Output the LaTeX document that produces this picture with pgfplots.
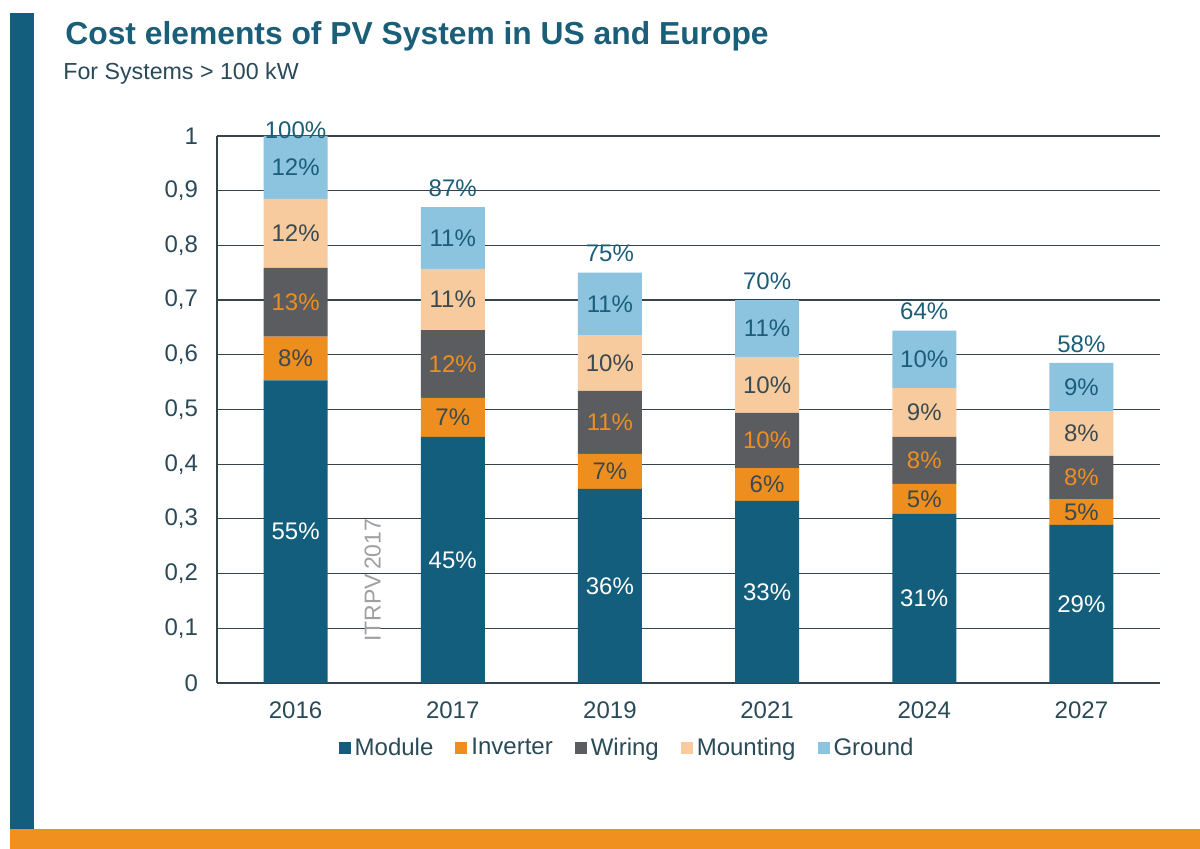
\documentclass[border=0pt]{standalone}
\usepackage{pgfplots}
\pgfplotsset{compat=1.18}
\usepackage{fontspec}
\setmainfont{Liberation Sans}
\definecolor{cModule}{HTML}{135E7C}
\definecolor{cInv}{HTML}{EE8E1F}
\definecolor{cWir}{HTML}{5B5C60}
\definecolor{cMnt}{HTML}{F8CB9E}
\definecolor{cGnd}{HTML}{8CC3DF}
\definecolor{cTitle}{HTML}{1B5E78}
\definecolor{cText}{HTML}{2A4A58}
\definecolor{cLab}{HTML}{3A4A50}
\definecolor{cGrid}{HTML}{34444A}
\definecolor{cOrange}{HTML}{F0901E}
\newcommand{\lab}[4]{\node[font=\fontsize{12}{14}\selectfont, text=#4, inner sep=0] at (axis cs:#1,#2) {#3};}
\begin{document}
\begin{tikzpicture}
\useasboundingbox (0,0) rectangle (600pt,424.5pt);
\fill[white] (0,0) rectangle (600pt,424.5pt);
\fill[cModule] (5pt,10pt) rectangle (17pt,418pt);
\fill[cOrange] (5pt,0) rectangle (600pt,10pt);
\node[anchor=base west, font=\bfseries\fontsize{15.9}{18}\selectfont, text=cTitle, inner sep=0] at (32.5pt,402pt) {Cost elements of PV System in US and Europe};
\node[anchor=base west, font=\fontsize{11.6}{13}\selectfont, text=cText, inner sep=0] at (31.5pt,384.5pt) {For Systems > 100 kW};
\begin{axis}[
  at={(108.5pt,83pt)}, anchor=south west,
  scale only axis, width=471.5pt, height=273.5pt,
  ybar stacked, bar width=32pt,
  xmin=-0.5, xmax=5.5, ymin=0, ymax=1,
  xtick={0,1,2,3,4,5}, xticklabels={2016,2017,2019,2021,2024,2027},
  ytick={0,0.1,0.2,0.3,0.4,0.5,0.6,0.7,0.8,0.9,1},
  yticklabel style={/pgf/number format/.cd, use comma, fixed, precision=1},
  /pgf/number format/assume math mode=true,
  tick label style={font=\fontsize{12}{14}\selectfont, text=cText},
  major tick length=0pt,
  ymajorgrids, grid style={cGrid, line width=0.6pt},
  axis x line*=bottom, axis y line*=left,
  axis line style={-, cGrid, line width=0.6pt},
  xticklabel shift=6pt, yticklabel shift=6pt,
  legend style={at={(0.436,-0.119)}, anchor=center, draw=none, fill=none,
    legend columns=-1, font=\fontsize{12}{14}\selectfont, text=cText,
    /tikz/every even column/.append style={column sep=9pt},
    /tikz/every odd column/.append style={column sep=0pt}},
  legend image code/.code={\fill[#1] (0pt,-3pt) rectangle (6pt,3pt);},
]
\addplot[fill=cModule, draw=none] coordinates {(0,0.553) (1,0.450) (2,0.355) (3,0.333) (4,0.309) (5,0.289)};
\addplot[fill=cInv, draw=none] coordinates {(0,0.080) (1,0.071) (2,0.064) (3,0.060) (4,0.055) (5,0.047)};
\addplot[fill=cWir, draw=none] coordinates {(0,0.126) (1,0.124) (2,0.115) (3,0.101) (4,0.086) (5,0.079)};
\addplot[fill=cMnt, draw=none] coordinates {(0,0.126) (1,0.112) (2,0.102) (3,0.102) (4,0.089) (5,0.082)};
\addplot[fill=cGnd, draw=none] coordinates {(0,0.115) (1,0.113) (2,0.114) (3,0.104) (4,0.105) (5,0.088)};
\legend{Module,Inverter,Wiring,Mounting,Ground}
\end{axis}
\begin{axis}[
  at={(108.5pt,83pt)}, anchor=south west,
  scale only axis, width=471.5pt, height=273.5pt,
  xmin=-0.5, xmax=5.5, ymin=0, ymax=1,
  hide axis, clip=false,
]
% module labels
\lab{0}{0.2765}{55\%}{white}
\lab{1}{0.225}{45\%}{white}
\lab{2}{0.1775}{36\%}{white}
\lab{3}{0.1665}{33\%}{white}
\lab{4}{0.1545}{31\%}{white}
\lab{5}{0.1445}{29\%}{white}
% inverter
\lab{0}{0.593}{8\%}{cLab}
\lab{1}{0.4855}{7\%}{cLab}
\lab{2}{0.387}{7\%}{cLab}
\lab{3}{0.363}{6\%}{cLab}
\lab{4}{0.3365}{5\%}{cLab}
\lab{5}{0.3125}{5\%}{cLab}
% wiring
\lab{0}{0.696}{13\%}{cInv}
\lab{1}{0.583}{12\%}{cInv}
\lab{2}{0.4765}{11\%}{cInv}
\lab{3}{0.4435}{10\%}{cInv}
\lab{4}{0.407}{8\%}{cInv}
\lab{5}{0.3755}{8\%}{cInv}
% mounting
\lab{0}{0.822}{12\%}{cLab}
\lab{1}{0.701}{11\%}{cLab}
\lab{2}{0.585}{10\%}{cLab}
\lab{3}{0.545}{10\%}{cLab}
\lab{4}{0.4945}{9\%}{cLab}
\lab{5}{0.456}{8\%}{cLab}
% ground
\lab{0}{0.9425}{12\%}{cTitle}
\lab{1}{0.8135}{11\%}{cTitle}
\lab{2}{0.693}{11\%}{cTitle}
\lab{3}{0.648}{11\%}{cTitle}
\lab{4}{0.5915}{10\%}{cTitle}
\lab{5}{0.541}{9\%}{cTitle}
% totals
\lab{0}{1.01}{100\%}{cTitle}
\lab{1}{0.905}{87\%}{cTitle}
\lab{2}{0.785}{75\%}{cTitle}
\lab{3}{0.735}{70\%}{cTitle}
\lab{4}{0.679}{64\%}{cTitle}
\lab{5}{0.62}{58\%}{cTitle}
\node[rotate=90, text=gray!75, font=\fontsize{11.5}{14}\selectfont, inner sep=0] at (axis cs:0.49,0.188) {ITRPV\,2017};
\end{axis}
\end{tikzpicture}
\end{document}
